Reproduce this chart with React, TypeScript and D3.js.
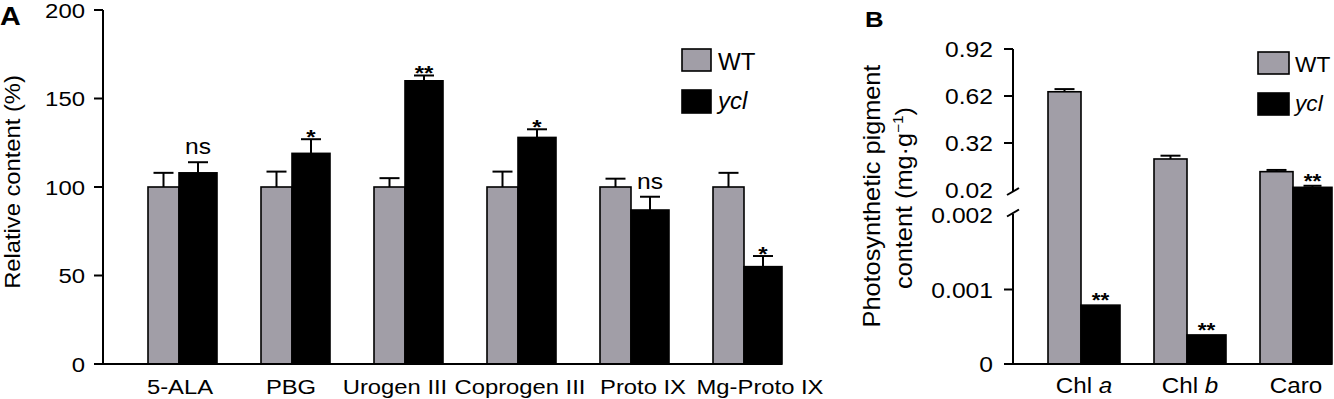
import React from "react";
import * as d3 from "d3";

// Panel A: tetrapyrrole intermediates, relative content (%)
const categoriesA = ["5-ALA", "PBG", "Urogen III", "Coprogen III", "Proto IX", "Mg-Proto IX"];
const wtA = [100, 100, 100, 100, 100, 100];
const wtErrA = [8, 8.7, 5, 8.7, 4.7, 8];
const yclA = [108, 119, 160, 128, 87, 55];
const yclErrA = [6, 8, 3, 4.6, 7.5, 6];
const sigA = ["ns", "*", "**", "*", "ns", "*"];
const ticksA = [0, 50, 100, 150, 200];

// Panel B: photosynthetic pigments (mg·g-1), broken axis
const categoriesB = ["Chl a", "Chl b", "Caro"];
const wtB = [0.647, 0.218, 0.137];
const wtErrB = [0.017, 0.021, 0.011];
const yclB = [0.00079, 0.00039, 0.037];
const yclErrB = [0, 0, 0.01];
const sigB = ["**", "**", "**"];
const ticksB = [0, 0.001, 0.002, 0.02, 0.32, 0.62, 0.92];

const WT_FILL = "#a19ea7";
const FONT = "'Liberation Sans', Arial, Helvetica, sans-serif";

type TxtProps = {
  x: number;
  y: number;
  size: number;
  sx?: number;
  anchor?: "start" | "middle" | "end";
  rotate?: number;
  weight?: string;
  italic?: boolean;
  children: React.ReactNode;
};

const Txt = ({ x, y, size, sx = 1.2, anchor = "middle", rotate, weight, italic, children }: TxtProps) => (
  <text
    transform={`translate(${x},${y})${rotate ? ` rotate(${rotate})` : ""} scale(${sx},1)`}
    textAnchor={anchor}
    fontSize={size}
    fontWeight={weight}
    fontStyle={italic ? "italic" : undefined}
    fill="#000"
  >
    {children}
  </text>
);

const ErrBar = ({ cx, y0, y1, cap }: { cx: number; y0: number; y1: number; cap: number }) => (
  <g stroke="#000" strokeWidth={2}>
    <line x1={cx} x2={cx} y1={y0} y2={y1} />
    <line x1={cx - cap / 2} x2={cx + cap / 2} y1={y1} y2={y1} />
  </g>
);

const PanelA = () => {
  const x = d3.scaleBand<string>().domain(categoriesA).range([103, 781]);
  const y = d3.scaleLinear().domain([0, 200]).range([364, 10]);
  const gap = 45, wtW = 31, yclW = 38;
  const nudge = [1, -1, -10, 2, 12, 16];
  const [x0] = x.range();
  return (
    <g>
      {categoriesA.map((c, i) => {
        const wx = (x(c) ?? 0) + gap;
        const yx = wx + wtW;
        const wtTop = y(wtA[i]);
        const yclTop = y(yclA[i]);
        const yclErrTop = y(yclA[i] + yclErrA[i]);
        return (
          <g key={c}>
            <ErrBar cx={wx + wtW / 2} y0={wtTop} y1={y(wtA[i] + wtErrA[i])} cap={20} />
            <ErrBar cx={yx + yclW / 2} y0={yclTop} y1={yclErrTop} cap={20} />
            <rect x={wx} y={wtTop} width={wtW} height={y(0) - wtTop} fill={WT_FILL} stroke="#000" strokeWidth={1.6} />
            <rect x={yx} y={yclTop} width={yclW} height={y(0) - yclTop} fill="#000" stroke="#000" strokeWidth={1.6} />
            {sigA[i] === "ns" ? (
              <Txt x={yx + yclW / 2} y={yclErrTop - 8} size={22} sx={1.12}>ns</Txt>
            ) : (
              <Txt x={yx + yclW / 2} y={yclErrTop + 4.6} size={20} weight="bold">{sigA[i]}</Txt>
            )}
            <Txt x={yx + nudge[i]} y={394} size={20} sx={1.19}>{c}</Txt>
          </g>
        );
      })}
      <line x1={x0} x2={x0} y1={y(200)} y2={y(0)} stroke="#000" strokeWidth={2} />
      <line x1={x0 - 1} x2={782} y1={y(0)} y2={y(0)} stroke="#000" strokeWidth={2} />
      {ticksA.map((t) => (
        <g key={t}>
          <line x1={x0 - 9} x2={x0} y1={y(t)} y2={y(t)} stroke="#000" strokeWidth={2} />
          <Txt x={85} y={y(t) + 7.8} size={21} sx={1.14} anchor="end">{t}</Txt>
        </g>
      ))}
      <Txt x={20} y={182} size={22} sx={1.08} rotate={-90}>Relative content (%)</Txt>
      <Txt x={0} y={25} size={25} sx={1.15} weight="bold" anchor="start">A</Txt>
      {/* legend */}
      <rect x={682} y={49} width={29} height={22} fill={WT_FILL} stroke="#000" strokeWidth={1.6} />
      <rect x={682} y={90} width={29} height={23} fill="#000" stroke="#000" strokeWidth={1.6} />
      <Txt x={718} y={70} size={24} sx={1} anchor="start">WT</Txt>
      <Txt x={718} y={109} size={24} sx={1} anchor="start" italic>ycl</Txt>
    </g>
  );
};

const PanelB = () => {
  const x = d3.scaleBand<string>().domain(categoriesB).range([1013, 1331]);
  const y = d3.scaleLinear().domain([0, 0.002, 0.02, 0.92]).range([364, 215, 190, 49]);
  const gap = 35, wtW = 33, yclW = 39;
  const [x0] = x.range();
  const slash = (cy: number) => (
    <line x1={x0 - 6} x2={x0 + 6} y1={cy + 3.5} y2={cy - 3.5} stroke="#000" strokeWidth={2} />
  );
  return (
    <g>
      {categoriesB.map((c, i) => {
        const wx = (x(c) ?? 0) + gap;
        const yx = wx + wtW;
        const wtTop = y(wtB[i]);
        const yclTop = y(yclB[i]);
        const yclErrTop = y(yclB[i] + yclErrB[i]);
        const [name, sub] = c.split(" ");
        return (
          <g key={c}>
            <ErrBar cx={wx + wtW / 2} y0={wtTop} y1={y(wtB[i] + wtErrB[i])} cap={20} />
            {yclErrB[i] > 0 && <ErrBar cx={yx + yclW / 2} y0={yclTop} y1={yclErrTop} cap={18} />}
            <rect x={wx} y={wtTop} width={wtW} height={y(0) - wtTop} fill={WT_FILL} stroke="#000" strokeWidth={1.6} />
            <rect x={yx} y={yclTop} width={yclW} height={y(0) - yclTop} fill="#000" stroke="#000" strokeWidth={1.6} />
            <Txt x={yx + yclW / 2} y={yclErrTop + 2} size={20} sx={1.13} weight="bold">{sigB[i]}</Txt>
            <Txt x={yx + 3} y={393} size={22} sx={1.1}>
              {name}
              {sub && (
                <>
                  {" "}
                  <tspan fontStyle="italic">{sub}</tspan>
                </>
              )}
            </Txt>
          </g>
        );
      })}
      {/* broken y axis */}
      <line x1={x0} x2={x0} y1={y(0.92)} y2={y(0.02) + 1} stroke="#000" strokeWidth={2} />
      <line x1={x0} x2={x0} y1={y(0.002) - 1} y2={y(0)} stroke="#000" strokeWidth={2} />
      {slash(y(0.02) + 1.5)}
      {slash(y(0.002) - 2)}
      <line x1={x0 - 1} x2={1332} y1={y(0)} y2={y(0)} stroke="#000" strokeWidth={2} />
      {ticksB.map((t) => (
        <g key={t}>
          {t !== 0.02 && t !== 0.002 && (
            <line x1={x0 - 9} x2={x0} y1={y(t)} y2={y(t)} stroke="#000" strokeWidth={2} />
          )}
          <Txt x={993} y={y(t) + 8.4} size={22} sx={1.12} anchor="end">{t}</Txt>
        </g>
      ))}
      <Txt x={880} y={196} size={23} sx={1.1} rotate={-90}>Photosynthetic pigment</Txt>
      <Txt x={912} y={198} size={23} sx={1.1} rotate={-90}>
        content (mg·g
        <tspan fontSize={14} dy={-9}>−1</tspan>
        <tspan dy={9}>)</tspan>
      </Txt>
      <Txt x={865} y={27} size={23} sx={1.12} weight="bold" anchor="start">B</Txt>
      {/* legend */}
      <rect x={1258} y={52} width={31} height={22} fill={WT_FILL} stroke="#000" strokeWidth={1.6} />
      <rect x={1258} y={93} width={31} height={22} fill="#000" stroke="#000" strokeWidth={1.6} />
      <Txt x={1295} y={72} size={22} sx={1.03} anchor="start">WT</Txt>
      <Txt x={1295} y={111} size={22} sx={1.03} anchor="start" italic>ycl</Txt>
    </g>
  );
};

export default function App() {
  return (
    <div style={{ position: "absolute", left: 0, top: 0 }}>
      <svg width={1334} height={399} style={{ display: "block", fontFamily: FONT, background: "#fff" }}>
        <PanelA />
        <PanelB />
      </svg>
    </div>
  );
}
